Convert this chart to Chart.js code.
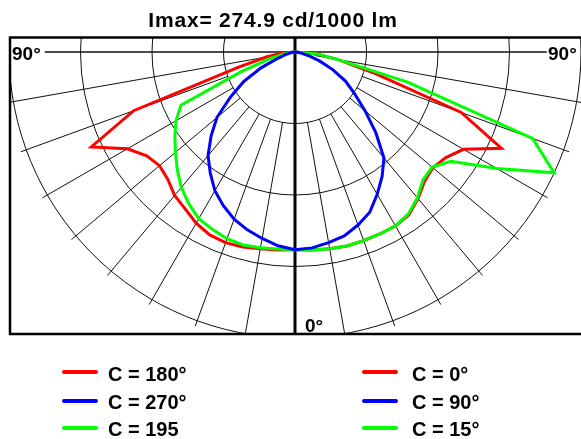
<!DOCTYPE html>
<html>
<head>
<meta charset="utf-8">
<script src="https://cdn.jsdelivr.net/npm/chart.js@4.4.1/dist/chart.umd.min.js"></script>
<style>
  html, body { margin: 0; padding: 0; background: #fff; }
  #wrap { position: relative; width: 581px; height: 439px; overflow: hidden;
          font-family: "Liberation Sans", Arial, sans-serif; font-weight: bold; color: #000; }
  #wrap canvas { position: absolute; left: 0; top: 0; }
  .t { position: absolute; white-space: nowrap; line-height: 1; }
  .sw { position: absolute; height: 4px; border-radius: 2px; }
</style>
</head>
<body>
<div id="wrap">
  <canvas id="c" width="581" height="439"></canvas>
  <div class="t" id="title" style="left:0;width:546px;text-align:center;top:9px;font-size:21px;letter-spacing:0.8px;"></div>
  <div class="t" style="left:12px;top:44px;font-size:19px;">90°</div>
  <div class="t" style="left:548px;top:44px;font-size:19px;">90°</div>
  <div class="t" style="left:305px;top:316px;font-size:19px;">0°</div>
  <div id="legend"></div>
</div>
<script>
// Luminous intensity distribution, cd/1000 lm, gamma measured from nadir.
const IMAX = 274.9;
const GAMMA = [0, 5, 10, 15, 20, 25, 30, 35, 40, 45, 50, 55, 60, 65, 70, 75, 80, 85, 90];

// Right half planes
const C0   = [190, 191, 192, 193, 193, 193, 193, 191, 184, 176, 173, 177, 187, 219, 170, 80, 42, 20, 0];
const C90  = [190, 189, 186, 183, 177, 170, 158, 146, 133, 110, 88, 70, 56, 40, 25, 13, 6, 2, 0];
const C15  = [190, 191, 192, 193, 193, 193, 193, 190, 183, 174, 172, 183, 224, 274.9, 243, 112, 42, 21, 0];
// Left half planes
const C180 = [190, 191, 192, 194, 195, 194, 190, 184, 180, 173, 170, 174, 186, 216, 165, 56, 28, 12, 0];
const C270 = [190, 187, 182, 177, 171, 163, 154, 142, 130, 114, 98, 76, 57, 36, 17, 9, 4, 1.5, 0];
const C195 = [190, 190, 191, 192, 191, 188, 185, 178, 170, 160, 150, 141, 132, 121, 55, 25, 10, 4, 0];

const RINGS = [0.25, 0.5, 0.75, 1].map(f => f * IMAX);
const SPOKES = [10, 20, 30, 40, 50, 60, 70, 80];

const RED = '#ff0000', BLUE = '#0000ff', GREEN = '#00ff00';

document.getElementById('title').textContent = 'Imax= ' + IMAX.toFixed(1) + ' cd/1000 lm';

const rad = d => d * Math.PI / 180;
function polarPoints(values, side) {
  return GAMMA.map((g, i) => ({
    x: side * values[i] * Math.sin(rad(g)),
    y: -values[i] * Math.cos(rad(g))
  }));
}

// plot area geometry: 572 px wide for 2*IMAX, center 15 px below the top edge
const AREA_W = 572, AREA_H = 297, TOP_GAP = 15;
const PX_PER_UNIT = AREA_W / (2 * IMAX);

function curve(label, values, side, color, col, row) {
  return {
    label, data: polarPoints(values, side), borderColor: color, backgroundColor: color,
    borderWidth: 3, pointRadius: 0, showLine: true, fill: false, tension: 0,
    legendCol: col, legendRow: row
  };
}

// first dataset is painted last (on top)
const datasets = [
  curve('C = 270°', C270, -1, BLUE, 0, 1),
  curve('C = 90°',  C90,   1, BLUE, 1, 1),
  curve('C = 195',  C195, -1, GREEN, 0, 2),
  curve('C = 15°',  C15,   1, GREEN, 1, 2),
  curve('C = 180°', C180, -1, RED, 0, 0),
  curve('C = 0°',   C0,    1, RED, 1, 0)
];

const polarGrid = {
  id: 'polarGrid',
  beforeDatasetsDraw(chart) {
    const { ctx, chartArea: a, scales: { x, y } } = chart;
    const P = (r, g, side) => [
      x.getPixelForValue(side * r * Math.sin(rad(g))),
      y.getPixelForValue(-r * Math.cos(rad(g)))
    ];
    const cx = x.getPixelForValue(0), cy = y.getPixelForValue(0);
    ctx.save();
    ctx.beginPath();
    ctx.rect(a.left, a.top, a.right - a.left, a.bottom - a.top);
    ctx.clip();
    ctx.strokeStyle = '#111';
    ctx.lineWidth = 1;
    // intensity rings
    RINGS.forEach(r => {
      const rp = x.getPixelForValue(r) - cx;
      ctx.beginPath();
      ctx.arc(cx, cy, rp, 0, Math.PI * 2);
      ctx.stroke();
    });
    // angle spokes
    SPOKES.forEach(g => {
      [-1, 1].forEach(side => {
        const r0 = g === 80 ? IMAX * 0.07 : RINGS[0];
        const p0 = P(r0, g, side), p1 = P(IMAX * 1.02, g, side);
        ctx.beginPath();
        ctx.moveTo(p0[0], p0[1]);
        ctx.lineTo(p1[0], p1[1]);
        ctx.stroke();
      });
    });
    // 90° axis
    ctx.lineWidth = 1.5;
    ctx.beginPath();
    ctx.moveTo(x.getPixelForValue(-240.5), cy);
    ctx.lineTo(x.getPixelForValue(242), cy);
    ctx.stroke();
    // 0° axis
    ctx.strokeStyle = '#000';
    ctx.lineWidth = 3;
    ctx.beginPath();
    ctx.moveTo(cx, a.top);
    ctx.lineTo(cx, a.bottom);
    ctx.stroke();
    ctx.restore();
    // frame
    ctx.save();
    ctx.strokeStyle = '#000';
    ctx.lineWidth = 2.5;
    ctx.beginPath();
    ctx.moveTo(a.right + 5, a.top + 0.5);
    ctx.lineTo(a.left + 1, a.top + 0.5);
    ctx.lineTo(a.left + 1, a.bottom);
    ctx.lineTo(a.right + 5, a.bottom);
    ctx.stroke();
    ctx.restore();
  }
};

const chart = new Chart(document.getElementById('c'), {
  type: 'scatter',
  data: { datasets },
  options: {
    responsive: false,
    animation: false,
    events: [],
    layout: { padding: { left: 9, right: 581 - 9 - AREA_W, top: 37, bottom: 439 - 37 - AREA_H } },
    scales: {
      x: { type: 'linear', display: false, min: -IMAX, max: IMAX },
      y: { type: 'linear', display: false,
           min: -(AREA_H - TOP_GAP) / PX_PER_UNIT, max: TOP_GAP / PX_PER_UNIT }
    },
    plugins: { legend: { display: false }, tooltip: { enabled: false }, title: { display: false } }
  },
  plugins: [polarGrid]
});

// two-column legend under the diagram
const legend = document.getElementById('legend');
const colX = [{ sw: 62, tx: 108 }, { sw: 362, tx: 412 }];
const rowY = [{ sw: 370, tx: 364 }, { sw: 399, tx: 392 }, { sw: 426, tx: 419 }];
chart.data.datasets.forEach(ds => {
  const c = colX[ds.legendCol], r = rowY[ds.legendRow];
  const sw = document.createElement('div');
  sw.className = 'sw';
  sw.style.cssText = `left:${c.sw}px;top:${r.sw}px;width:36px;background:${ds.borderColor};`;
  const tx = document.createElement('div');
  tx.className = 't';
  tx.style.cssText = `left:${c.tx}px;top:${r.tx}px;font-size:20px;`;
  tx.textContent = ds.label;
  legend.appendChild(sw);
  legend.appendChild(tx);
});
</script>
</body>
</html>
